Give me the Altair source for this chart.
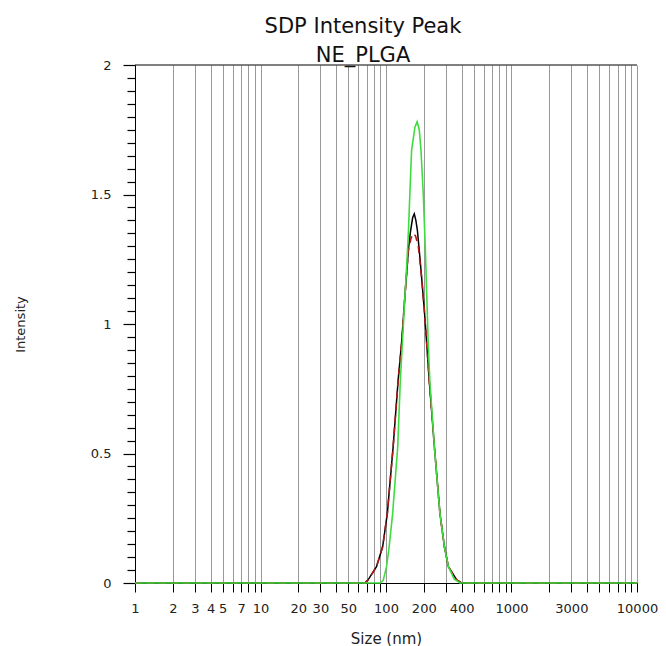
import altair as alt
import pandas as pd

# ---- data (size in nm, intensity) ----
size_black = [1, 68, 72, 84, 94, 102.5, 114, 125, 133, 142, 151, 157, 163, 168, 173, 178, 186, 192, 202, 211, 222, 243, 269, 292, 314, 366, 400, 10000]
int_black = [0, 0, 0.012, 0.063, 0.14, 0.269, 0.526, 0.784, 0.925, 1.119, 1.29, 1.36, 1.41, 1.425, 1.40, 1.36, 1.26, 1.183, 1.054, 0.925, 0.77, 0.526, 0.269, 0.14, 0.063, 0.012, 0, 0]

size_red = [1, 68, 72, 84, 94, 102.5, 114, 125, 133, 142, 151, 158, 165, 172, 181, 192, 202, 211, 222, 243, 269, 292, 314, 366, 400, 10000]
int_red = [0, 0, 0.012, 0.063, 0.14, 0.269, 0.526, 0.784, 0.925, 1.119, 1.286, 1.33, 1.35, 1.34, 1.30, 1.183, 1.054, 0.925, 0.77, 0.526, 0.269, 0.14, 0.063, 0.012, 0, 0]

size_green = [1, 90, 95, 101, 106, 113, 124, 130, 135, 142, 146, 151, 155, 160, 170, 177, 184, 190, 198, 205, 211, 217, 224, 243, 269, 292, 314, 350, 389, 10000]
int_green = [0, 0, 0.01, 0.063, 0.14, 0.269, 0.526, 0.78, 0.925, 1.119, 1.22, 1.36, 1.505, 1.672, 1.76, 1.781, 1.75, 1.672, 1.505, 1.312, 1.119, 0.925, 0.77, 0.526, 0.269, 0.14, 0.063, 0.015, 0, 0]

x_ticks = [1, 2, 3, 4, 5, 6, 7, 8, 9,
           10, 20, 30, 40, 50, 60, 70, 80, 90,
           100, 200, 300, 400, 500, 600, 700, 800, 900,
           1000, 2000, 3000, 4000, 5000, 6000, 7000, 8000, 9000, 10000]
x_labels = [1, 2, 3, 4, 5, 7, 10, 20, 30, 50, 100, 200, 400, 1000, 3000, 10000]
y_ticks = [round(i * 0.05, 2) for i in range(41)]
y_labels = [0, 0.5, 1, 1.5, 2]

FONT = "DejaVu Sans"

df_black = pd.DataFrame({"size": size_black, "val": int_black})
df_red = pd.DataFrame({"size": size_red, "val": int_red})
df_green = pd.DataFrame({"size": size_green, "val": int_green})
df_top = pd.DataFrame({"val": [2]})

xl = ",".join(str(v) for v in x_labels)
yl = ",".join(str(v) for v in y_labels)

x_enc = alt.X(
    "size:Q",
    title="Size (nm)",
    scale=alt.Scale(type="log", domain=[1, 10000], nice=False),
    axis=alt.Axis(
        values=x_ticks,
        tickCount=60,
        format="d",
        labelExpr=f"indexof([{xl}], datum.value) >= 0 ? datum.label : ''",
        labelOverlap=False,
        labelFlush=False,
        labelBound=False,
        grid=True,
        gridColor="#999999",
        gridWidth=1,
        gridOpacity=1,
        domainColor="black",
        tickColor="black",
        tickSize=9,
        labelPadding=10,
        labelFont=FONT,
        labelFontSize=13,
        labelColor="#222",
        titleFont=FONT,
        titleFontSize=15,
        titleFontWeight="normal",
        titleColor="#222",
        titleX=251,
        titleY=48,
        titleAlign="center",
        titleBaseline="top",
        zindex=0,
    ),
)

y_enc = alt.Y(
    "val:Q",
    title="Intensity",
    scale=alt.Scale(domain=[0, 2], nice=False, zero=True),
    axis=alt.Axis(
        values=y_ticks,
        tickCount=60,
        format="~g",
        labelExpr=f"indexof([{yl}], datum.value) >= 0 ? datum.label : ''",
        labelOverlap=False,
        labelFlush=False,
        grid=False,
        domainColor="black",
        tickColor="black",
        tickWidth=1.2,
        tickSize={"condition": {"test": f"indexof([{yl}], datum.value) >= 0", "value": 12}, "value": 8},
        labelPadding=12,
        labelFont=FONT,
        labelFontSize=13,
        labelColor="#222",
        titleFont=FONT,
        titleFontSize=13,
        titleFontWeight="normal",
        titleColor="#222",
        titleX=-115,
        titleY=259,
        titleAngle=270,
        titleAlign="center",
        titleBaseline="middle",
        zindex=0,
    ),
)

black = alt.Chart(df_black).mark_line(color="black", strokeWidth=1.5).encode(x=x_enc, y=y_enc)
red = alt.Chart(df_red).mark_line(color="#b01818", strokeWidth=1.6, strokeDash=[7, 5]).encode(x=x_enc, y=y_enc)
green = alt.Chart(df_green).mark_line(color="#3fdc3f", strokeWidth=1.6).encode(x=x_enc, y=y_enc)
top = alt.Chart(df_top).mark_rule(color="black", strokeWidth=1).encode(y=alt.Y("val:Q"))

chart = alt.layer(black, red, green, top).properties(
    width=502,
    height=518,
    autosize=alt.AutoSizeParams(type="none"),
    padding={"left": 135, "top": 65, "right": 29, "bottom": 63},
    background="white",
    title=alt.TitleParams(
        text=["SDP Intensity Peak", "NE_PLGA"],
        font=FONT,
        fontSize=21,
        fontWeight="normal",
        color="#111",
        lineHeight=29,
        dx=-23,
        offset=-7,
        anchor="middle",
    ),
).configure_view(stroke=None)

chart.save("out.html", embed_options={"renderer": "svg", "actions": False})
